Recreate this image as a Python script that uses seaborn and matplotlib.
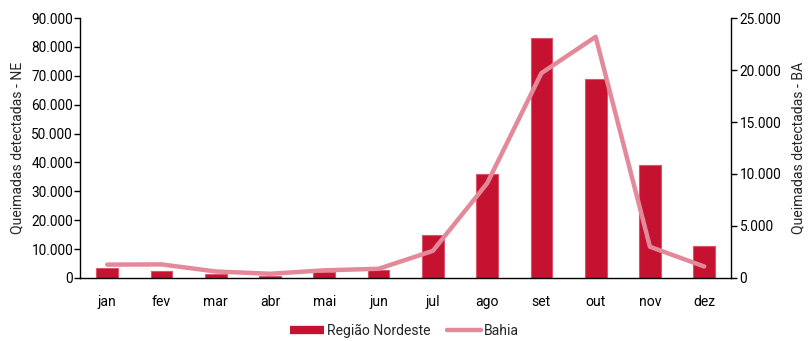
import numpy as np
import pandas as pd
import matplotlib
matplotlib.use("Agg")
import matplotlib.pyplot as plt
from matplotlib.ticker import FuncFormatter, MultipleLocator
from matplotlib.lines import Line2D
import seaborn as sns

months = ["jan", "fev", "mar", "abr", "mai", "jun", "jul", "ago", "set", "out", "nov", "dez"]
nordeste = [3600, 2400, 1500, 800, 1900, 2700, 15000, 36000, 83000, 69000, 39000, 11000]
bahia = [1280, 1300, 620, 400, 730, 880, 2600, 9100, 19700, 23200, 3000, 1100]

bar_color = "#C41230"
line_color = "#E4899A"

sns.set_theme(style="white")
plt.rcParams["font.family"] = ["Roboto", "DejaVu Sans"]
fs = 9.8

df = pd.DataFrame({"mes": months, "ne": nordeste, "ba": bahia})

fig = plt.figure(figsize=(8.09, 3.41), dpi=100)
ax = fig.add_axes([0.099, 0.185, 0.805, 0.762])

sns.barplot(data=df, x="mes", y="ne", color=bar_color, width=0.4,
            edgecolor="#D9566A", linewidth=0.8, saturation=1, ax=ax)

ax2 = ax.twinx()
sns.lineplot(x=np.arange(len(months)), y=df["ba"], color=line_color,
             linewidth=3.2, ax=ax2)

thousands = FuncFormatter(lambda v, p: "0" if v == 0 else f"{int(v):,}".replace(",", "."))

ax.set_ylim(0, 90000)
ax.yaxis.set_major_locator(MultipleLocator(10000))
ax.yaxis.set_major_formatter(thousands)
ax2.set_ylim(0, 25000)
ax2.yaxis.set_major_locator(MultipleLocator(5000))
ax2.yaxis.set_major_formatter(thousands)
ax.set_xlim(-0.5, len(months) - 0.5)

ax.set_xlabel("")
ax.set_ylabel("Queimadas detectadas - NE", fontsize=fs + 0.3, labelpad=5)
ax2.set_ylabel("Queimadas detectadas - BA", fontsize=fs + 0.3, labelpad=7)

for a in (ax, ax2):
    for s in a.spines.values():
        s.set_color("black")
        s.set_linewidth(1.0)
    a.spines["top"].set_visible(False)
ax.spines["right"].set_visible(False)
ax2.spines["left"].set_visible(False)
ax2.spines["bottom"].set_visible(False)

ax.tick_params(axis="y", which="major", left=True, length=4, width=1, color="black",
               labelsize=fs, pad=1, labelcolor="black")
ax.tick_params(axis="x", bottom=False, labelsize=fs + 0.3, pad=6, labelcolor="black")
ax2.tick_params(axis="y", which="major", right=True, length=4, width=1, color="black",
                labelsize=fs, pad=2, labelcolor="black")
ax.grid(False)
ax2.grid(False)

handles = [Line2D([0], [0], color=bar_color, linewidth=6, solid_capstyle="butt"),
           Line2D([0], [0], color=line_color, linewidth=3.2)]
fig.legend(handles, ["Região Nordeste", "Bahia"], loc="center",
           bbox_to_anchor=(0.5, 0.03), ncol=2, frameon=False,
           fontsize=fs + 0.3, handlelength=2.4, handletextpad=0.2,
           columnspacing=1.2)

fig.savefig("out.png", dpi=100)
